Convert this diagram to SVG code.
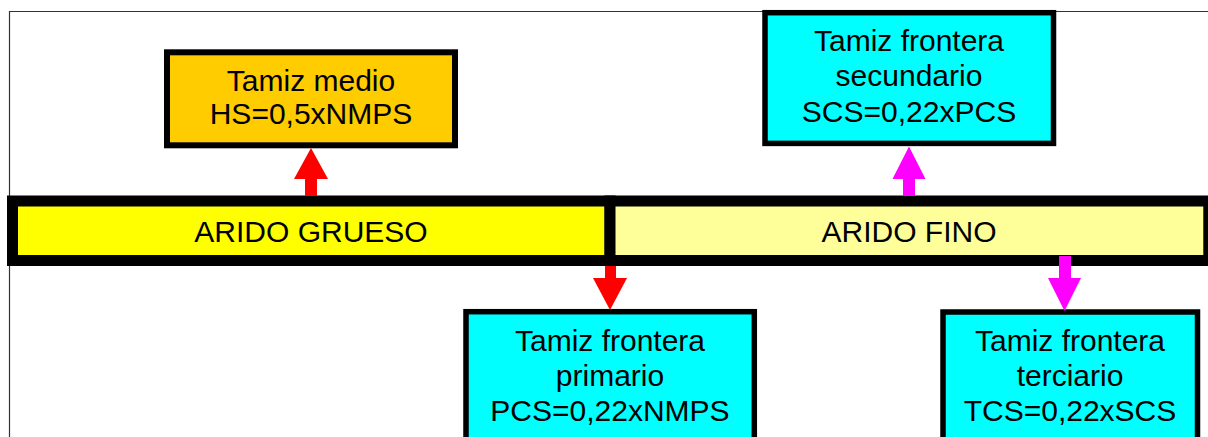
<svg xmlns="http://www.w3.org/2000/svg" width="1208" height="437" viewBox="0 0 1208 437">
<style>
.box{stroke:#000;stroke-width:5.5}
.bar{stroke:#000;stroke-width:11}
.t{font-family:"Liberation Sans",Arial,sans-serif;font-size:30px;fill:#000;text-anchor:middle}
.frame{fill:none;stroke:#333;stroke-width:1.2}
</style>
<rect width="1208" height="437" fill="#fff"/>
<path class="frame" d="M9.5,437 V11.5 H1208"/>
<g id="tamiz-medio">
<rect class="box" x="167" y="52.3" width="288" height="93" fill="#FFCC00" style="stroke-width:6"/>
<text class="t" x="311" y="90.7">Tamiz medio</text>
<text class="t" x="311" y="124">HS=0,5xNMPS</text>
</g>
<g id="tamiz-secundario">
<rect class="box" x="765" y="12.7" width="288.5" height="130.7" fill="#00FFFF"/>
<text class="t" x="909" y="50.7">Tamiz frontera</text>
<text class="t" x="909" y="86.2">secundario</text>
<text class="t" x="909" y="121.7">SCS=0,22xPCS</text>
</g>
<g id="arido-grueso">
<rect class="bar" x="12.5" y="201" width="597.5" height="59.5" fill="#FFFF00"/>
<text class="t" x="311" y="241.7">ARIDO GRUESO</text>
</g>
<g id="arido-fino">
<rect class="bar" x="610" y="201" width="598.8" height="59.5" fill="#FFFF99"/>
<text class="t" x="909" y="241.7">ARIDO FINO</text>
</g>
<g id="tamiz-primario">
<rect class="box" x="466" y="311.7" width="288.3" height="150" fill="#00FFFF"/>
<text class="t" x="610" y="351">Tamiz frontera</text>
<text class="t" x="610" y="386">primario</text>
<text class="t" x="610" y="421">PCS=0,22xNMPS</text>
</g>
<g id="tamiz-terciario">
<rect class="box" x="943" y="312" width="254.5" height="150" fill="#00FFFF"/>
<text class="t" x="1070" y="351">Tamiz frontera</text>
<text class="t" x="1070" y="386">terciario</text>
<text class="t" x="1070" y="421">TCS=0,22xSCS</text>
</g>
<g id="connectors">
<polygon fill="#FF0000" points="305,196 305,179 294,179 311,148 328,179 317,179 317,196"/>
<polygon fill="#FF00FF" points="903,196 903,179 892.5,179 909,146.5 925.5,179 915,179 915,196"/>
<polygon fill="#FF0000" points="605,266 605,278 593,278 610,310 627,278 616,278 616,266"/>
<polygon fill="#FF00FF" points="1059,256 1059,278 1048,278 1064.5,311 1081,278 1071,278 1071,256"/>
</g>
</svg>
